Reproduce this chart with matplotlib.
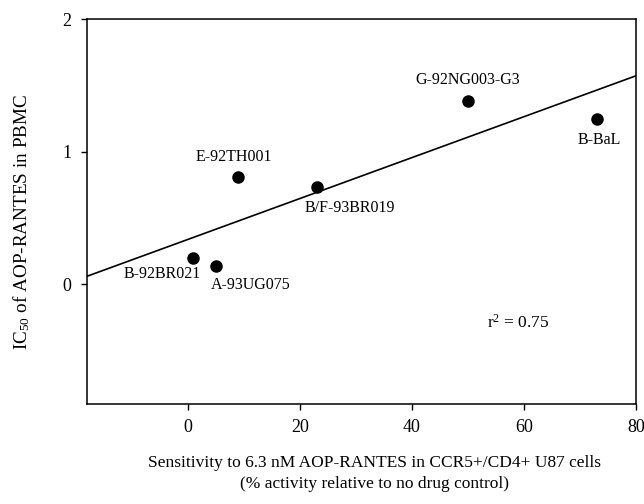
import matplotlib
matplotlib.use("Agg")
import matplotlib.pyplot as plt
import numpy as np

plt.rcParams["font.family"] = ["Liberation Serif", "DejaVu Serif"]
plt.rcParams["mathtext.fontset"] = "custom"
plt.rcParams["mathtext.rm"] = "Liberation Serif"
plt.rcParams["mathtext.it"] = "Liberation Serif:italic"

# data
isolates = ["B-92BR021", "A-93UG075", "E-92TH001", "B/F-93BR019", "G-92NG003-G3", "B-BaL"]
sensitivity = [1.0, 5.0, 9.0, 23.0, 50.0, 73.0]
ic50 = [0.20, 0.14, 0.81, 0.73, 1.38, 1.245]

# label placement (offset points, alignment)
label_style = {
    "B-92BR021": ((5, -12), "right"),
    "A-93UG075": ((-3.6, -13.7), "left"),
    "E-92TH001": ((-3, 14.5), "center"),
    "B/F-93BR019": ((-8.6, -15), "left"),
    "G-92NG003-G3": ((0, 15), "center"),
    "B-BaL": ((2, -15), "center"),
}

fig = plt.figure(figsize=(6.44, 5.04), dpi=100)
ax = fig.add_axes([87 / 644, 1 - 404 / 504, (636 - 87) / 644, (404 - 19) / 504])

ax.scatter(sensitivity, ic50, s=64, color="black", zorder=3)

slope, intercept = np.polyfit(sensitivity, ic50, 1)
xs = np.array([-18, 80])
ax.plot(xs, slope * xs + intercept, color="black", linewidth=1.2)

for name, x, y in zip(isolates, sensitivity, ic50):
    off, ha = label_style[name]
    ax.annotate(name, (x, y), xytext=off, textcoords="offset points",
                ha=ha, va="center", fontsize=11.5)

ax.text(0.785, 0.21, "r$^2$ = 0.75", transform=ax.transAxes, fontsize=12.5,
        ha="center", va="center")

ax.set_xlim(-18, 80)
ax.set_ylim(-0.905, 2)
ax.set_xticks([0, 20, 40, 60, 80])
ax.set_yticks([0, 1, 2])
ax.tick_params(direction="out", length=4, width=1, labelsize=13, pad=7)
for sp in ax.spines.values():
    sp.set_linewidth(1.1)

ax.set_xlabel("Sensitivity to 6.3 nM AOP-RANTES in CCR5+/CD4+ U87 cells\n"
              "(% activity relative to no drug control)", fontsize=12.5,
              linespacing=1.4)
ax.xaxis.set_label_coords(0.523, -0.1325)
ax.set_ylabel("IC$_{50}$ of AOP-RANTES in PBMC", fontsize=13.8)
ax.yaxis.set_label_coords(-0.1, 0.473)

fig.savefig("out.png", dpi=100)
